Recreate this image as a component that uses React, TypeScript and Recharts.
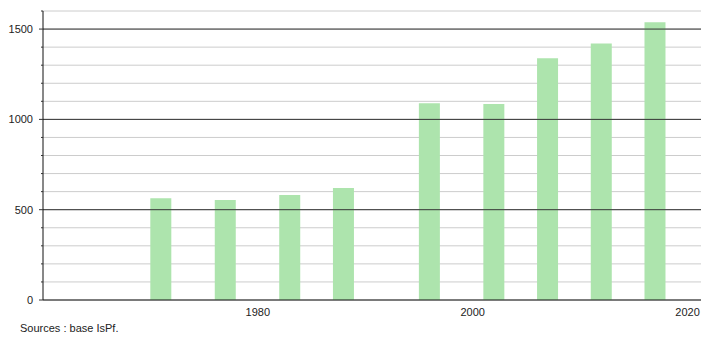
import React from 'react'
import { BarChart, Bar, XAxis, YAxis, CartesianGrid, ReferenceLine } from 'recharts'

// census years and population counts
const years = [1971, 1977, 1983, 1988, 1996, 2002, 2007, 2012, 2017]
const population = [563, 553, 581, 620, 1089, 1085, 1339, 1420, 1538]

const yTicks = [0, 100, 200, 300, 400, 500, 600, 700, 800, 900, 1000, 1100, 1200, 1300, 1400, 1500, 1600]
const yLabels = [0, 500, 1000, 1500]
const xTicks = [1980, 2000, 2020]

const data = years.map((year, i) => ({ year, value: population[i] }))

const FONT = '"Liberation Sans", Arial, sans-serif'

const YTick = (props: any) => {
  const { x, y, payload } = props
  const major = yLabels.includes(payload.value)
  return (
    <g>
      <line x1={major ? x - 4 : x - 2} x2={x} y1={y} y2={y} stroke="#333" strokeWidth={1} />
      {major && (
        <text x={x - 10} y={y} dy={4} textAnchor="end" fontSize={11} fill="#222" fontFamily={FONT}>
          {payload.value}
        </text>
      )}
    </g>
  )
}

const App: React.FC = () => {
  return (
    <div style={{ position: 'absolute', left: 0, top: 0, width: 710, height: 340, background: '#fff' }}>
      <BarChart width={710} height={340} data={data} margin={{ top: 11, right: 9, bottom: 20, left: 0 }}>
        <CartesianGrid vertical={false} stroke="#cccccc" />
        <ReferenceLine y={500} stroke="#333" />
        <ReferenceLine y={1000} stroke="#333" />
        <ReferenceLine y={1500} stroke="#333" />
        <XAxis
          dataKey="year"
          type="number"
          domain={[1960, 2021.25]}
          ticks={xTicks}
          tickLine={false}
          axisLine={{ stroke: '#111' }}
          height={20}
          tick={{ fontSize: 11, fill: '#222', fontFamily: FONT }}
          tickMargin={2}
        />
        <YAxis
          type="number"
          domain={[0, 1600]}
          ticks={yTicks}
          interval={0}
          width={43}
          tickLine={false}
          tickSize={0}
          tickMargin={0}
          axisLine={{ stroke: '#111' }}
          tick={<YTick />}
        />
        <Bar dataKey="value" fill="#ade4ad" barSize={21} isAnimationActive={false} />
      </BarChart>
      <div
        style={{
          position: 'absolute',
          left: 20,
          top: 322,
          fontSize: 11,
          color: '#222',
          fontFamily: FONT,
        }}
      >
        Sources : base IsPf.
      </div>
    </div>
  )
}

export default App
